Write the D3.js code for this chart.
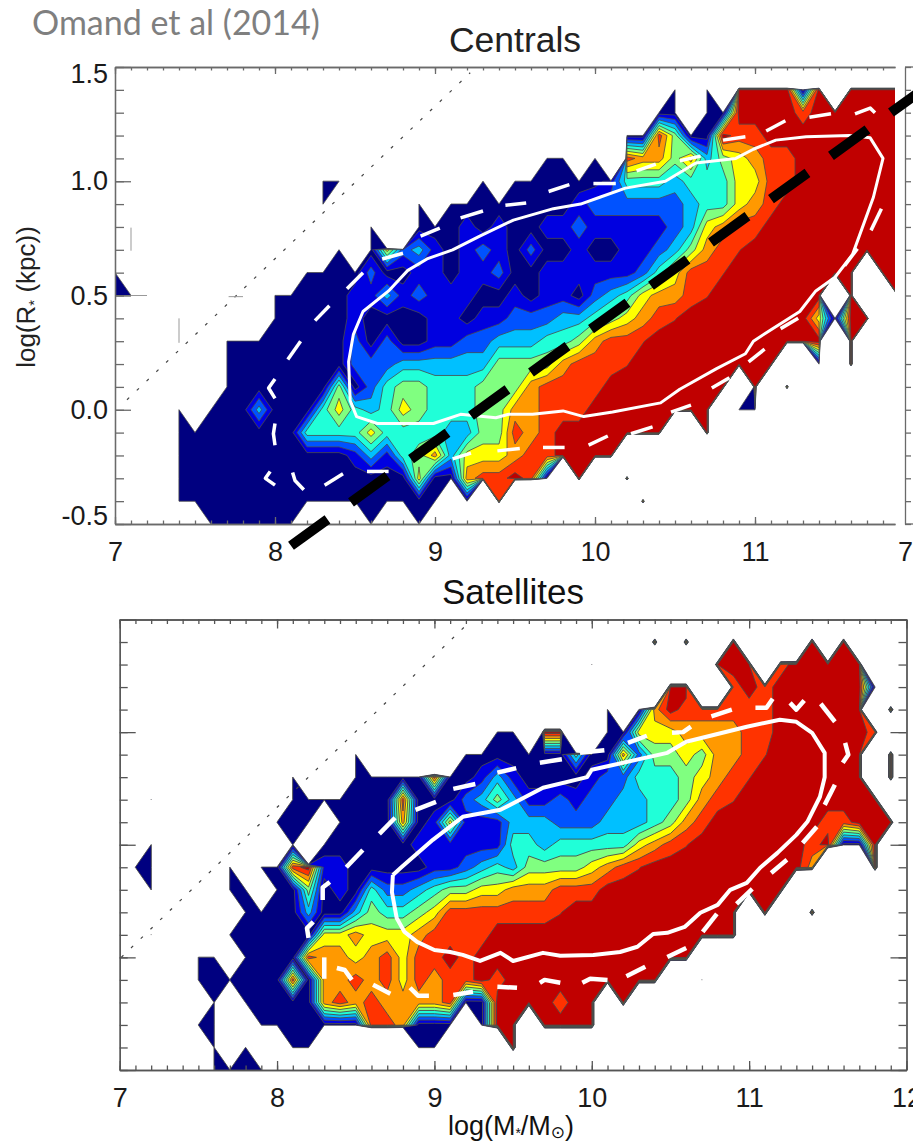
<!DOCTYPE html>
<html>
<head>
<meta charset="utf-8">
<script src="https://cdn.jsdelivr.net/npm/d3@7"></script>
<style>
	html, body { margin: 0; padding: 0; background: #fff; overflow: hidden; }
	svg { display: block; }
	text { font-family: "Liberation Sans", Arial, sans-serif; }
</style>
</head>
<body>
<div id="chart-area"></div>
<script>
// one char per grid point, x = 7.0 to 12.0 in steps of 0.1, rows y = 1.5 down to -0.5
// "." = no galaxies, 0-9 = colour level, "i" = just under the 8/9 edge
var centralsGrid = [
	".......... .......... .......... .......... .......... .",
	".......... .......... .......... .....0.0.9 99909.9999 9",
	".......... .......... .......... ....00.009 9998999999 9",
	".......... .......... .......... ..00850098 8999999999 9",
	".......... .......... .......00. 0.87757356 7889999999 9",
	".......... ...00..... ...0.00000 0144434446 6889999999 9",
	".......... ...0.....0 .000000001 2222223446 7899999999 9",
	".......... ......0..0 0010100112 1111123678 8999999999 9",
	".......... ....0.0623 1012102001 001123578i 9999999999 9",
	"0......... ..00002001 1011200111 11124688i9 9999999.99 9",
	"00........ 0000011312 1110010110 2346778i99 99999.9..9 9",
	".......... 0000010000 1101122233 45678i9999 99996099.. .",
	".......000 0000020200 1122333445 788i999999 99999.9... .",
	".......000 0000022233 3333555578 88i9999999 99..0.9... .",
	".......000 0000502455 4445557888 899999999. 9.9....... .",
	"....0.0003 0004643465 4445577888 99999999.0 0......... .",
	"....000000 0044446444 4335587899 99999..9.. .......... .",
	"....000000 0000013145 7366678899 99........ .......... .",
	"....000000 0000000006 00788980.9 ..9....... .......... .",
	"....000000 0000000000 0.0.8..... ...9...... .......... .",
	"......0000 00....0..0 .......... .......... .......... ."
];

var satellitesGrid = [
	".......... .......... .......... .......... .......... .",
	".......... .......... .......... ....9.9..9 ....9.9... .",
	".......... .......... .......... 0.......99 9.899999.. .",
	".......... .......... .......... .....99..8 989999990. .",
	".......... .......... .......... .0.0798888 88999999.9 .",
	".......... .......... ....00.99. .006667777 889999998. .",
	".......... .....0.... ..00000004 0072556577 8i999999.9 .",
	".......... .0...00000 8001310000 1224445678 i9999999.9 .",
	"..0....... .000000080 0023531121 223344578i 999999999. .",
	".......... 000.000070 1611133322 2333457899 9999988999 .",
	"..0....... .0.0000001 1111144344 444678i999 999989009. .",
	".00....0.0 0891100000 1123435555 678i999999 99997...9. .",
	"..0....00. 0050104223 4556677788 8999999999 999....... .",
	"........00 0030035445 68888888i9 9999999999 .9..9..... .",
	"..0....000 0006676667 8888999999 9999999999 .......... .",
	".....00.00 0087767868 8989999999 9999999... .......... .",
	".....00000 0807787868 7889899999 99999..0.. .......... .",
	"......0.00 0007878777 7800999989 9.9....... .......... .",
	".....00..0 0000008870 00.099.999 9......... .......... .",
	"......0.0. .00......0 0....9.... .......... .......... .",
	"......0000 .......... .......... .......... .......... ."
];

var levelColors = ["#000080", "#0000e0", "#0052ff", "#00c0ff", "#20ffd8", "#80ff80", "#ffff00", "#ff9900", "#ff3300", "#c00000"];
var levelThresholds = [-0.5, 0.5, 1.5, 2.5, 3.5, 4.5, 5.5, 6.5, 7.5, 8.5];

// white 1 sigma contours, solid inner and dashed outer
var centralsInner = [[8.71,.52],[8.55,.43],[8.49,.33],[8.46,.21],[8.47,.04],[8.51,-.03],[8.64,-.06],[8.80,-.06],[8.99,-.06],[9.16,-.02],[9.38,-.035],[9.46,-.02],[9.61,-.02],[9.80,-.005],[9.93,-.03],[10.11,-.01],[10.41,.03],[10.53,.09],[10.76,.18],[10.94,.245],[10.99,.30],[11.11,.355],[11.28,.43],[11.38,.52],[11.50,.58],[11.61,.68],[11.74,.93],[11.80,1.10],[11.72,1.19],[11.59,1.20],[11.32,1.195],[11.13,1.18],[10.99,1.14],[10.88,1.10],[10.63,1.08],[10.44,1.00],[10.19,.97],[10.03,.93],[9.91,.90],[9.74,.88],[9.49,.83],[9.28,.76],[9.11,.70],[8.95,.66],[8.83,.61],[8.71,.52]];
var centralsDashes = [
	[[8.25,.39],[8.34,.455]], [[8.08,.22],[8.16,.30]], [[8.00,.135],[7.96,.095],[8.00,.05]],
	[[8.00,-.06],[7.99,-.105],[8.00,-.155]], [[7.97,-.27],[7.94,-.30],[8.00,-.33]], [[8.11,-.275],[8.125,-.31],[8.18,-.35]],
	[[8.31,-.33],[8.425,-.28]], [[8.575,-.27],[8.71,-.27]], [[9.11,-.215],[9.225,-.19]], [[9.39,-.18],[9.53,-.17]],
	[[9.675,-.165],[9.81,-.165]], [[9.96,-.155],[10.08,-.115]], [[10.225,-.105],[10.36,-.075]], [[10.475,-.01],[10.6,.02]],
	[[10.73,.095],[10.84,.14]], [[10.96,.21],[11.06,.265]], [[11.16,.355],[11.27,.40]], [[11.56,.63],[11.64,.705]],
	[[11.725,.785],[11.79,.88]], [[11.625,1.295],[11.72,1.32],[11.75,1.30]], [[11.34,1.28],[11.475,1.295]],
	[[11.07,1.22],[11.19,1.265]], [[10.8,1.18],[10.94,1.195]], [[10.53,1.09],[10.66,1.11]], [[10.26,1.045],[10.38,1.075]],
	[[9.99,.99],[10.13,.99]], [[9.71,.955],[9.84,.985]], [[9.44,.895],[9.57,.905]], [[9.16,.84],[9.30,.87]],
	[[8.91,.76],[9.03,.795]], [[8.67,.66],[8.80,.685]], [[8.45,.53],[8.55,.60]]
];
var satellitesInner = [[8.736,.366],[8.79,.40],[8.99,.522],[9.18,.624],[9.42,.655],[9.69,.753],[9.97,.80],[10.0,.833],[10.48,.908],[10.60,.957],[10.985,1.024],[11.195,1.055],[11.30,1.046],[11.40,.997],[11.48,.908],[11.48,.80],[11.45,.713],[11.37,.602],[11.30,.544],[11.18,.464],[11.07,.398],[10.985,.331],[10.88,.30],[10.80,.233],[10.69,.198],[10.59,.135],[10.48,.109],[10.39,.104],[10.29,.047],[10.18,.024],[10.01,.011],[9.80,.007],[9.69,.02],[9.50,-.016],[9.42,.02],[9.29,-.016],[9.18,.011],[9.10,.024],[9.00,.033],[8.89,.069],[8.81,.113],[8.76,.175],[8.73,.29],[8.736,.366]];
var satellitesDashes = [
	[[8.44,.40],[8.545,.477]], [[8.65,.548],[8.75,.62]], [[8.88,.655],[9.01,.69]], [[9.12,.748],[9.26,.77]], [[9.40,.82],[9.52,.84]],
	[[9.67,.864],[9.81,.88]], [[9.925,.908],[10.08,.92]], [[10.23,.952],[10.35,.984]], [[10.51,.997],[10.58,1.0],[10.63,1.024]],
	[[10.76,1.07],[10.89,1.10]], [[11.04,1.108],[11.11,1.108],[11.15,1.148]], [[11.26,1.13],[11.30,1.10],[11.35,1.14]],
	[[11.455,1.126],[11.545,1.046]], [[11.61,.952],[11.63,.90],[11.595,.864]], [[11.545,.766],[11.48,.677]], [[11.43,.58],[11.34,.508]],
	[[11.24,.433],[11.14,.375]], [[11.02,.304],[10.92,.238]], [[10.795,.193],[10.705,.113]], [[10.60,.042],[10.48,.002]],
	[[10.34,-.042],[10.22,-.084]], [[10.10,-.10],[9.99,-.095],[9.94,-.113]], [[9.80,-.113],[9.70,-.10],[9.67,-.113]],
	[[9.525,-.135],[9.40,-.13]], [[9.12,-.167],[9.245,-.153]], [[8.845,-.135],[8.895,-.17],[8.965,-.17]], [[8.61,-.122],[8.72,-.162]],
	[[8.38,-.047],[8.43,-.056],[8.475,-.10]], [[8.30,0],[8.30,-.095]], [[8.335,.335],[8.29,.31],[8.29,.255]], [[8.23,.158],[8.19,.13],[8.20,.087]]
];

var centralsDotted = [[7.075,.044],[9.22,1.475]];
var satellitesDotted = [[7.01,0],[9.21,1.48]];
var centralsStray = [[[7.1,.797],[7.1,.696]], [[7.4,.40],[7.4,.293]], [[7.71,.495],[7.8,.495]], [[7.0,.5],[7.2,.5]]];
var slopeLine = [[8.1,-.595],[12.06,1.407]];

var xMajor = [7, 8, 9, 10, 11, 12];
var yMajor = [-0.5, 0, 0.5, 1, 1.5];
var xMinor = d3.range(70, 121).map(d => d / 10);
var yMinor = d3.range(-5, 16).map(d => d / 10);

var width = 913;
var height = 1145;

var svg = d3.select("#chart-area")
	.append("svg")
	.attr("width", width)
	.attr("height", height);

// panels
var topX = d3.scaleLinear().domain([7, 11.875]).range([115, 895]);
var topY = d3.scaleLinear().domain([-0.5, 1.5]).range([524, 67]);
var botX = d3.scaleLinear().domain([7, 12]).range([119.7, 906.5]);
var botY = d3.scaleLinear().domain([-0.5, 1.5]).range([1070, 619.5]);

var gridSize = [51, 21];

function drawContours(grid, missing, xScale, yScale, clipId, lineWidth) {
	var values = [];
	grid.forEach(row => {
		row.split(" ").join("").split("").forEach(c => {
			values.push(c === "." ? missing : c === "i" ? 8.45 : +c);
		});
	});

	svg.append("clipPath")
		.attr("id", clipId)
		.append("rect")
		.attr("x", xScale.range()[0])
		.attr("y", yScale.range()[1])
		.attr("width", xScale.range()[1] - xScale.range()[0])
		.attr("height", yScale.range()[0] - yScale.range()[1]);

	var contours = d3.contours()
		.size(gridSize)
		.thresholds(levelThresholds)(values);

	// contour coordinates are grid indexes, grid point i sits at i + 0.5
	var projection = d3.geoTransform({
		point: function (px, py) {
			this.stream.point(xScale(7 + (px - 0.5) * 0.1), yScale(1.5 - (py - 0.5) * 0.1));
		}
	});

	svg.append("g")
		.attr("clip-path", "url(#" + clipId + ")")
		.selectAll("path")
		.data(contours)
		.enter().append("path")
		.attr("d", d3.geoPath(projection))
		.attr("fill", (d, i) => levelColors[i])
		.attr("stroke", "#4a4a4a")
		.attr("stroke-width", lineWidth)
		.attr("stroke-linejoin", "round");
}

function drawLines(inner, dashes, dotted, xScale, yScale, whiteWidth) {
	var line = d3.line().x(d => xScale(d[0])).y(d => yScale(d[1]));

	svg.append("path")
		.attr("d", line(dotted))
		.attr("fill", "none")
		.attr("stroke", "#444")
		.attr("stroke-width", 1.2)
		.attr("stroke-dasharray", "3,10.5");

	svg.append("path")
		.attr("d", line(inner))
		.attr("fill", "none")
		.attr("stroke", "#fff")
		.attr("stroke-width", whiteWidth)
		.attr("stroke-linejoin", "round");

	svg.append("g").selectAll("path")
		.data(dashes)
		.enter().append("path")
		.attr("d", line)
		.attr("fill", "none")
		.attr("stroke", "#fff")
		.attr("stroke-width", whiteWidth + 0.5)
		.attr("stroke-linejoin", "round");
}

function styleAxis(g, color, strokeWidth) {
	g.selectAll("path.domain").attr("stroke", color).attr("stroke-width", strokeWidth);
	g.selectAll("line").attr("stroke", color).attr("stroke-width", strokeWidth);
	g.selectAll("text").attr("fill", "#1a1a1a").attr("font-family", "Liberation Sans").attr("font-size", "27px");
}

function addAxis(axis, tx, ty, color, strokeWidth) {
	var g = svg.append("g")
		.attr("transform", "translate(" + tx + "," + ty + ")")
		.call(axis);
	styleAxis(g, color, strokeWidth);
	return g;
}

drawContours(centralsGrid, -120, topX, topY, "clip-top", 0.8);
drawContours(satellitesGrid, -60, botX, botY, "clip-bot", 0.9);

drawLines(centralsInner, centralsDashes, centralsDotted, topX, topY, 3);
drawLines(satellitesInner, satellitesDashes, satellitesDotted, botX, botY, 4);

// stray scan marks in the top panel
svg.append("g").selectAll("path")
	.data(centralsStray)
	.enter().append("path")
	.attr("d", d3.line().x(d => topX(d[0])).y(d => topY(d[1])))
	.attr("fill", "none")
	.attr("stroke", "#999")
	.attr("stroke-width", 1);

// top panel axes
var topColor = "#6a6a6a";
var topMinorX = xMinor.filter(d => d <= 11.85);
var yTickFormat = d => d3.format(".1f")(d).replace("\u2212", "-");

addAxis(d3.axisTop(topX).tickValues(topMinorX).tickFormat("").tickSize(-3.5).tickSizeOuter(0), 0, 67, topColor, 1.3);
addAxis(d3.axisTop(topX).tickValues(xMajor.slice(0, 5)).tickFormat("").tickSize(-7).tickSizeOuter(0), 0, 67, topColor, 1.3);
addAxis(d3.axisBottom(topX).tickValues(topMinorX).tickFormat("").tickSize(-3.5).tickSizeOuter(0), 0, 524, topColor, 1.3);
addAxis(d3.axisBottom(topX).tickValues(xMajor.slice(0, 5)).tickFormat(d3.format("d")).tickSize(-7).tickSizeOuter(0).tickPadding(18), 0, 524, topColor, 1.3);
addAxis(d3.axisLeft(topY).tickValues(yMinor).tickFormat("").tickSize(-9).tickSizeOuter(0), 115, 0, topColor, 1.3);
var topYAxis = addAxis(d3.axisLeft(topY).tickValues(yMajor).tickFormat(yTickFormat).tickSize(-16).tickSizeOuter(0).tickPadding(7), 115, 0, topColor, 1.3);
topYAxis.selectAll("text").attr("dy", d => d === 1.5 ? "0.58em" : d === -0.5 ? "0.02em" : "0.32em");

// left edge of the panel that was cut off next to the top one
var sideX = d3.scaleLinear().domain([7, 7.05]).range([905, 913]);
addAxis(d3.axisRight(topY).tickValues(yMinor).tickFormat("").tickSize(6).tickSizeOuter(0), 905, 0, topColor, 1.3);
addAxis(d3.axisBottom(sideX).tickValues([7]).tickFormat(d3.format("d")).tickSize(0).tickPadding(18), 0, 524, topColor, 0);
svg.append("g").call(g => {
	g.append("path").attr("d", d3.line()([[sideX(7), topY(1.5)], [sideX(7.05), topY(1.5)]])).attr("stroke", topColor).attr("stroke-width", 1.3);
	g.append("path").attr("d", d3.line()([[sideX(7), topY(-0.5)], [sideX(7.05), topY(-0.5)]])).attr("stroke", topColor).attr("stroke-width", 1.3);
});

// bottom panel axes
var botColor = "#555";
addAxis(d3.axisTop(botX).tickValues(xMinor).tickFormat("").tickSize(-4.5).tickSizeOuter(0), 0, 619.5, botColor, 1.3);
addAxis(d3.axisTop(botX).tickValues(xMajor).tickFormat("").tickSize(-9).tickSizeOuter(0), 0, 619.5, botColor, 1.3);
addAxis(d3.axisBottom(botX).tickValues(xMinor).tickFormat("").tickSize(-4.5).tickSizeOuter(0), 0, 1070, botColor, 1.3);
addAxis(d3.axisBottom(botX).tickValues(xMajor).tickFormat(d3.format("d")).tickSize(-9).tickSizeOuter(0).tickPadding(18), 0, 1070, botColor, 1.3);
addAxis(d3.axisLeft(botY).tickValues(yMinor).tickFormat("").tickSize(-8).tickSizeOuter(0), 119.7, 0, botColor, 1.3);
addAxis(d3.axisLeft(botY).tickValues(yMajor).tickFormat("").tickSize(-16).tickSizeOuter(0), 119.7, 0, botColor, 1.3);
addAxis(d3.axisRight(botY).tickValues(yMinor).tickFormat("").tickSize(-8).tickSizeOuter(0), 906.5, 0, botColor, 1.3);
addAxis(d3.axisRight(botY).tickValues(yMajor).tickFormat("").tickSize(-16).tickSizeOuter(0), 906.5, 0, botColor, 1.3);

// black dashed relation over the top panel
svg.append("path")
	.attr("d", d3.line().x(d => topX(d[0])).y(d => topY(d[1]))(slopeLine))
	.attr("fill", "none")
	.attr("stroke", "#000")
	.attr("stroke-width", 10)
	.attr("stroke-dasharray", "45,29");

// titles
svg.append("text")
	.attr("x", 32)
	.attr("y", 35)
	.attr("font-size", "34px")
	.attr("fill", "#7f7f7f")
	.style("font-family", "Lato")
	.text("Omand et al (2014)");

svg.append("text")
	.attr("x", 515)
	.attr("y", 52)
	.attr("text-anchor", "middle")
	.attr("font-size", "35.5px")
	.attr("fill", "#222")
	.text("Centrals");

svg.append("text")
	.attr("x", 513)
	.attr("y", 604)
	.attr("text-anchor", "middle")
	.attr("font-size", "35px")
	.attr("fill", "#111")
	.text("Satellites");

var yLabel = svg.append("text")
	.attr("transform", "translate(35,297) rotate(-90)")
	.attr("text-anchor", "middle")
	.attr("font-size", "26px")
	.attr("fill", "#222");
yLabel.append("tspan").text("log(R");
yLabel.append("tspan").attr("font-size", "15px").attr("dy", 4).text("*");
yLabel.append("tspan").attr("dy", -4).text(" (kpc))");

var xLabel = svg.append("text")
	.attr("x", 511)
	.attr("y", 1135)
	.attr("text-anchor", "middle")
	.attr("font-size", "27px")
	.attr("fill", "#111");
xLabel.append("tspan").text("log(M");
xLabel.append("tspan").attr("font-size", "14px").attr("dy", 3).text("*");
xLabel.append("tspan").attr("dy", -3).text("/M");
xLabel.append("tspan").attr("font-size", "17px").attr("dy", 3).style("font-family", "DejaVu Sans").text("\u2299");
xLabel.append("tspan").attr("dy", -3).text(")");
</script>
</body>
</html>
